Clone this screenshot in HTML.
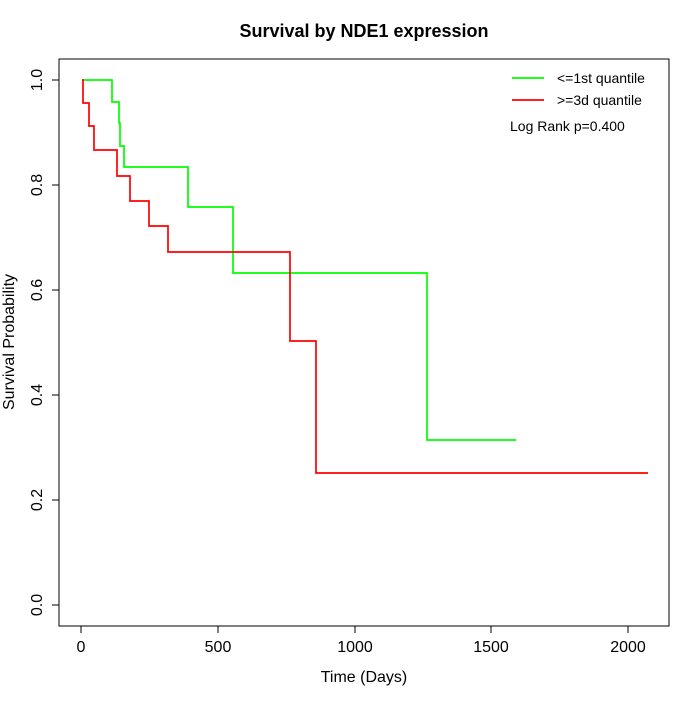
<!DOCTYPE html>
<html><head><style>body{margin:0;background:#fff}</style></head><body>
<svg width="700" height="700" xmlns="http://www.w3.org/2000/svg" font-family="Liberation Sans, sans-serif">
<rect width="700" height="700" fill="#fff"/>
<text x="364" y="37" text-anchor="middle" font-size="18" font-weight="bold">Survival by NDE1 expression</text>
<rect x="59" y="59" width="610" height="567" fill="none" stroke="#000" stroke-width="1"/>
<g stroke="#000" stroke-width="1">
<line x1="81" y1="626" x2="81" y2="633"/><line x1="218" y1="626" x2="218" y2="633"/><line x1="355" y1="626" x2="355" y2="633"/><line x1="491" y1="626" x2="491" y2="633"/><line x1="628" y1="626" x2="628" y2="633"/>
<line x1="52" y1="605" x2="59" y2="605"/><line x1="52" y1="500" x2="59" y2="500"/><line x1="52" y1="395" x2="59" y2="395"/><line x1="52" y1="290" x2="59" y2="290"/><line x1="52" y1="185" x2="59" y2="185"/><line x1="52" y1="80" x2="59" y2="80"/>
</g>
<g font-size="16" text-anchor="middle">
<text x="81" y="652">0</text><text x="218" y="652">500</text><text x="355" y="652">1000</text><text x="491" y="652">1500</text><text x="628" y="652">2000</text>
<text x="364" y="682">Time (Days)</text>
<g transform="translate(42,605) rotate(-90)"><text>0.0</text></g>
<g transform="translate(42,500) rotate(-90)"><text>0.2</text></g>
<g transform="translate(42,395) rotate(-90)"><text>0.4</text></g>
<g transform="translate(42,290) rotate(-90)"><text>0.6</text></g>
<g transform="translate(42,185) rotate(-90)"><text>0.8</text></g>
<g transform="translate(42,80) rotate(-90)"><text>1.0</text></g>
<g transform="translate(14,342) rotate(-90)"><text>Survival Probability</text></g>
</g>
<polyline fill="none" stroke="#00ff00" stroke-width="1.7" points="82,80 112,80 112,102 119,102 119,123 120,123 120,146 124,146 124,167 188,167 188,207 233,207 233,273 427,273 427,440 516,440"/>
<polyline fill="none" stroke="#ff0000" stroke-width="1.7" points="82,80 83,80 83,103 89,103 89,126 94,126 94,150 117,150 117,176 130,176 130,201 149,201 149,226 168,226 168,252 290,252 290,341 316,341 316,473 648,473"/>
<line x1="512" y1="78" x2="544" y2="78" stroke="#00ff00" stroke-width="1.7"/>
<line x1="512" y1="100" x2="544" y2="100" stroke="#ff0000" stroke-width="1.7"/>
<g font-size="14">
<text x="557" y="83">&lt;=1st quantile</text>
<text x="557" y="105">&gt;=3d quantile</text>
<text x="510" y="131">Log Rank p=0.400</text>
</g>
</svg>
</body></html>
